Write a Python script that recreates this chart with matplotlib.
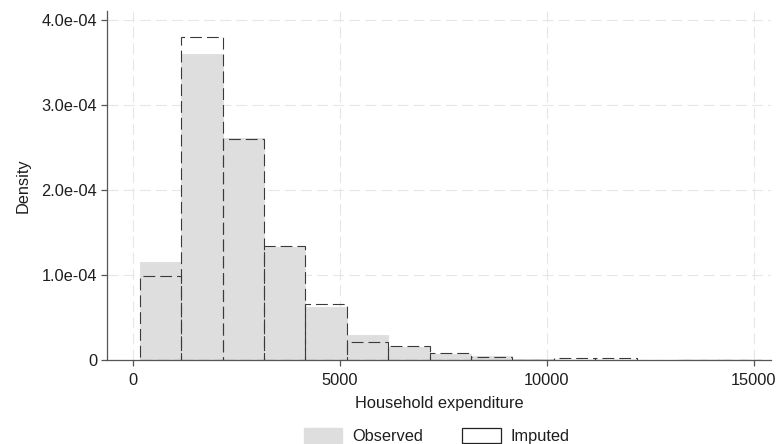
import numpy as np
import matplotlib
matplotlib.use("Agg")
import matplotlib.pyplot as plt
from matplotlib.patches import Patch
from matplotlib.ticker import FuncFormatter

# -----------------------------
# Histogram data (density per bin)
# -----------------------------
bin_start = 172
bin_width = 1000
observed_density = [1.16e-4, 3.61e-4, 2.62e-4, 1.33e-4, 0.63e-4, 0.30e-4,
                    0.16e-4, 0.07e-4, 0.045e-4, 0.01e-4]
imputed_density = [0.99e-4, 3.81e-4, 2.60e-4, 1.35e-4, 0.665e-4, 0.21e-4,
                   0.172e-4, 0.082e-4, 0.035e-4, 0.008e-4, 0.024e-4, 0.022e-4,
                   0.0, 0.006e-4, 0.006e-4]
x_ticks = [0, 5000, 10000, 15000]
y_ticks = [0, 1e-4, 2e-4, 3e-4, 4e-4]

plt.rcParams['font.family'] = ['Liberation Sans', 'DejaVu Sans']
plt.rcParams['lines.scale_dashes'] = False

text_col = '#1e1e1e'
axis_col = '#555555'

fig = plt.figure(figsize=(7.77, 4.44), dpi=100)
ax = fig.add_axes([0.1377, 0.1885, 0.8543, 0.7865])

obs_left = bin_start + bin_width * np.arange(len(observed_density))
imp_left = bin_start + bin_width * np.arange(len(imputed_density))
imp_h = np.array(imputed_density)
keep = imp_h > 0  # empty bins get no outline

# observed: solid light gray bars
ax.bar(obs_left, observed_density, width=bin_width, align='edge',
       color='#dedede', edgecolor='#dedede', linewidth=0.6, zorder=2)
# imputed: dashed outlines only
ax.bar(imp_left[keep], imp_h[keep], width=bin_width, align='edge',
       fill=False, edgecolor='#3a3a3a', linewidth=0.8,
       linestyle=(0, (8.5, 3.6)), zorder=3)

ax.set_xlim(-620, 15410)
ax.set_ylim(0, 4.11e-4)
ax.set_xticks(x_ticks)
ax.set_yticks(y_ticks)
ax.yaxis.set_major_formatter(FuncFormatter(lambda v, p: '0' if v == 0 else f'{v:.1e}'))

ax.grid(True, color='#e6e6e6', linewidth=0.8, linestyle=(0, (8, 3.6)))
ax.set_axisbelow(True)

for s in ['top', 'right']:
    ax.spines[s].set_visible(False)
for s in ['left', 'bottom']:
    ax.spines[s].set_color(axis_col)
    ax.spines[s].set_linewidth(0.9)

ax.tick_params(axis='both', direction='out', length=4, width=0.9, color=axis_col,
               labelsize=11.8, labelcolor=text_col)
ax.tick_params(axis='x', pad=5)
ax.tick_params(axis='y', pad=3)

ax.set_xlabel('Household expenditure', fontsize=11.8, color=text_col, labelpad=6)
ax.set_ylabel('Density', fontsize=11.8, color=text_col, labelpad=8)

handles = [Patch(facecolor='#dedede', edgecolor='#dedede'),
           Patch(facecolor='none', edgecolor='#222222', linewidth=0.9)]
fig.legend(handles, ['Observed', 'Imputed'], loc='center', bbox_to_anchor=(0.562, 0.018),
           ncol=2, frameon=False, fontsize=11.8, handlelength=2.35, handleheight=1.05,
           handletextpad=0.6, columnspacing=2.4, labelcolor=text_col)

plt.savefig('out.png', dpi=100)
